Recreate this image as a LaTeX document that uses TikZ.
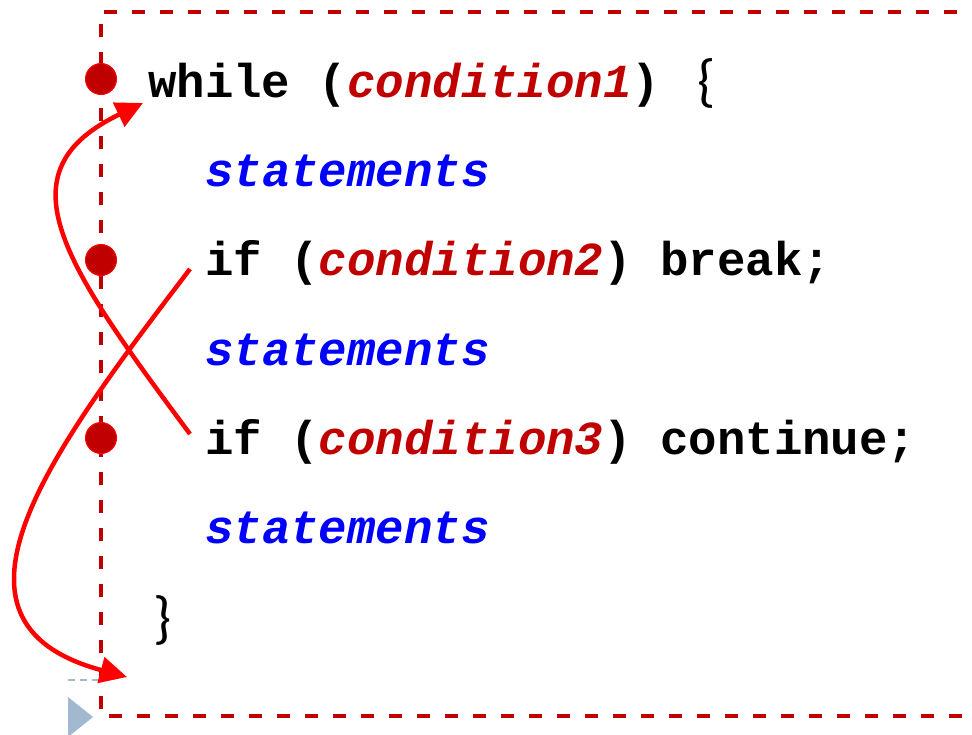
\documentclass[tikz,border=0pt]{standalone}
\usepackage{fontspec}
\usetikzlibrary{arrows.meta}
\newfontfamily\codefont{Liberation Mono}
\newfontfamily\bracefont{Carlito}
\definecolor{darkred}{HTML}{C00000}
\definecolor{stmtblue}{HTML}{0000FF}
\definecolor{arrowred}{HTML}{FF0000}
\definecolor{markerblue}{HTML}{A2B8CF}
\tikzset{
  codeline/.style={anchor=base west, inner sep=0pt, font=\codefont\fontsize{47.4}{50}\selectfont\bfseries},
  bulletdot/.style={circle, fill=darkred, draw=arrowred, line width=1pt, minimum size=31pt, inner sep=0pt},
  frameline/.style={draw=darkred, line width=4pt, dash pattern=on 13pt off 15pt},
  jumparrow/.style={draw=arrowred, line width=4.5pt, -{Triangle[length=27pt,width=26pt]}},
}
\newcommand{\cnd}[1]{\textcolor{darkred}{\itshape #1}}
\newcommand{\stm}{\textcolor{stmtblue}{\itshape statements}}
\newcommand{\brc}[1]{{\mdseries\bracefont\fontsize{58}{60}\selectfont #1}}
\begin{document}
\begin{tikzpicture}[x=1pt,y=-1pt]
\useasboundingbox (0,0) rectangle (972,734);
% frame
\draw[frameline] (985,12) -- (101,12) -- (101,716) -- (985,716);
% marker remnants
\fill[markerblue] (68,697) -- (93,717) -- (68,737) -- cycle;
\draw[markerblue, line width=1.5pt, dash pattern=on 7pt off 5pt] (68,680) -- (101,680);
% bullets
\node[bulletdot] (b1) at (101,79) {};
\node[bulletdot] (b2) at (101,260) {};
\node[bulletdot] (b3) at (101,438) {};
% code
\node[codeline] (w) at (148,97) {while (\cnd{condition1}) \hspace{9pt}\raisebox{-3pt}{\brc{\{}}};
\node[codeline] (s1) at (205,186) {\stm};
\node[codeline] (c2) at (205,275) {if (\cnd{condition2}) break;};
\node[codeline] (s2) at (205,365) {\stm};
\node[codeline] (c3) at (205,454) {if (\cnd{condition3}) continue;};
\node[codeline] (s3) at (205,543) {\stm};
\node[codeline] (e) at (153,637) {\brc{\}}};
% arrows
\coordinate (contstart) at (190,434);
\coordinate (conttip) at (143,103);
\coordinate (brkstart) at (190,269);
\coordinate (brktip) at (127,677);
\draw[jumparrow] (contstart) .. controls (62,262) and (0,172) .. (conttip);
\draw[jumparrow] (brkstart) .. controls (52,450) and (-78,622) .. (brktip);
\end{tikzpicture}
\end{document}
